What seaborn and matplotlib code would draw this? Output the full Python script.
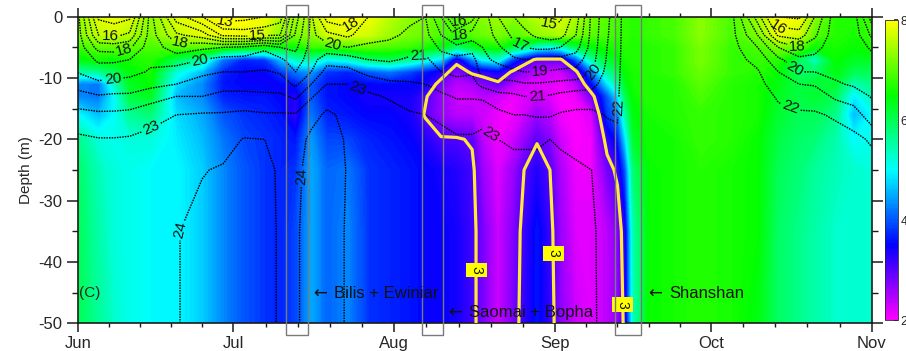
import numpy as np
import matplotlib
matplotlib.use("Agg")
import matplotlib.pyplot as plt
from matplotlib.patches import Rectangle
import seaborn as sns

# Sampling times (days after 1 June 2006) and depths (m) of the section
days = [0, 4, 7, 10, 14, 19, 24, 28, 32, 36, 39, 42, 45, 48, 52, 56, 60, 64, 67, 70,
        73, 76, 78, 81, 84, 86, 88.5, 91, 93, 96, 99, 102, 104, 105.5, 107, 110, 115,
        120, 126, 131, 135, 139, 142, 146, 149.5, 153]
depths = [0, -3, -5, -7, -9, -11, -13, -16, -20, -25, -35, -50]

# Dissolved oxygen profile (mg/L) for each sampling time, top to bottom
oxygen_profiles = [
    [7.3, 7.2, 6.8, 6.4, 5.5, 4.3, 4.3, 5.0, 5.7, 5.9, 6.0, 6.0],
    [7.8, 7.6, 7.0, 6.6, 5.6, 4.2, 4.2, 4.6, 5.2, 5.4, 5.5, 5.6],
    [7.9, 7.7, 7.0, 6.5, 6.0, 5.3, 5.0, 5.0, 5.1, 5.2, 5.2, 5.3],
    [7.8, 7.5, 7.0, 6.6, 6.4, 6.3, 6.1, 5.6, 5.2, 5.1, 5.1, 5.1],
    [7.3, 7.2, 6.9, 6.7, 6.6, 6.5, 6.3, 5.8, 5.2, 5.0, 5.0, 5.0],
    [7.8, 7.6, 7.0, 6.0, 5.2, 4.8, 4.6, 4.8, 4.9, 5.0, 5.0, 5.0],
    [7.9, 7.8, 7.0, 5.5, 4.6, 4.3, 4.3, 4.5, 4.6, 4.7, 4.7, 4.7],
    [8.0, 7.9, 6.8, 4.2, 3.7, 3.6, 3.7, 4.0, 4.2, 4.3, 4.3, 4.3],
    [8.0, 7.9, 6.6, 3.7, 3.5, 3.5, 3.6, 3.8, 3.9, 4.0, 4.0, 4.0],
    [7.9, 7.7, 6.5, 3.8, 3.5, 3.5, 3.6, 3.7, 3.8, 3.8, 3.8, 3.8],
    [7.5, 7.3, 6.4, 4.6, 3.8, 3.5, 3.5, 3.6, 3.7, 3.7, 3.7, 3.7],
    [7.4, 7.2, 6.5, 5.4, 4.2, 3.6, 3.3, 3.2, 3.6, 3.8, 3.9, 3.9],
    [7.6, 7.3, 6.8, 5.5, 4.4, 4.0, 4.0, 4.2, 4.4, 4.5, 4.5, 4.5],
    [7.9, 7.7, 6.8, 5.0, 3.8, 3.6, 3.6, 3.7, 3.9, 4.1, 4.1, 4.1],
    [8.0, 7.8, 6.9, 5.2, 3.7, 3.5, 3.5, 3.6, 3.9, 4.2, 4.3, 4.3],
    [7.9, 7.7, 7.0, 5.8, 4.0, 3.5, 3.4, 3.5, 3.7, 3.8, 3.8, 3.8],
    [7.6, 7.4, 6.9, 6.0, 4.2, 3.5, 3.4, 3.5, 3.6, 3.7, 3.7, 3.7],
    [7.3, 7.2, 6.8, 5.6, 3.9, 3.5, 3.4, 3.4, 3.5, 3.6, 3.6, 3.6],
    [7.2, 7.1, 6.6, 5.2, 3.6, 3.4, 3.05, 2.95, 3.3, 3.5, 3.5, 3.5],
    [7.0, 6.9, 6.4, 4.8, 3.3, 2.8, 2.6, 2.6, 3.05, 3.4, 3.5, 3.5],
    [7.0, 6.8, 5.8, 3.2, 2.7, 2.4, 2.3, 2.4, 3.05, 3.3, 3.4, 3.4],
    [7.2, 7.0, 6.2, 4.3, 3.1, 2.5, 2.3, 2.4, 2.95, 3.1, 3.12, 3.12],
    [7.3, 7.1, 6.5, 5.0, 3.2, 2.7, 2.4, 2.3, 2.4, 2.6, 2.8, 2.8],
    [7.4, 7.2, 6.6, 5.2, 3.4, 2.9, 2.3, 2.1, 2.1, 2.2, 2.3, 2.3],
    [7.3, 7.0, 6.0, 3.8, 2.9, 2.4, 2.1, 2.1, 2.3, 2.6, 2.75, 2.8],
    [7.4, 7.1, 5.8, 3.3, 2.6, 2.3, 2.2, 2.3, 2.6, 3.0, 3.15, 3.2],
    [7.6, 7.3, 5.2, 2.9, 2.4, 2.2, 2.3, 2.6, 2.95, 3.3, 3.6, 3.6],
    [7.7, 7.4, 5.0, 2.9, 2.3, 2.2, 2.2, 2.4, 2.7, 3.0, 3.15, 3.2],
    [7.8, 7.5, 5.2, 2.9, 2.3, 2.1, 2.0, 2.1, 2.3, 2.5, 2.6, 2.7],
    [7.5, 7.2, 6.0, 4.0, 2.9, 2.4, 2.1, 2.0, 2.0, 2.1, 2.2, 2.3],
    [7.2, 7.0, 6.4, 5.5, 4.2, 3.5, 2.8, 2.2, 2.1, 2.1, 2.2, 2.2],
    [7.0, 6.9, 6.6, 6.2, 5.6, 4.8, 4.0, 3.8, 3.2, 2.8, 2.4, 2.4],
    [6.9, 6.8, 6.6, 6.4, 6.0, 5.5, 4.8, 4.2, 3.6, 3.1, 2.7, 2.6],
    [6.8, 6.8, 6.7, 6.6, 6.5, 6.3, 6.0, 5.5, 4.8, 4.0, 3.3, 3.15],
    [6.7, 6.7, 6.7, 6.7, 6.6, 6.6, 6.5, 6.4, 6.2, 5.8, 5.4, 5.3],
    [6.8, 6.8, 6.7, 6.7, 6.7, 6.7, 6.7, 6.6, 6.6, 6.5, 6.5, 6.5],
    [6.9, 6.9, 6.8, 6.8, 6.8, 6.7, 6.7, 6.7, 6.6, 6.6, 6.6, 6.6],
    [7.3, 7.3, 7.2, 7.2, 7.1, 7.0, 6.9, 6.8, 6.8, 6.7, 6.7, 6.7],
    [6.9, 6.9, 6.8, 6.8, 6.8, 6.7, 6.7, 6.7, 6.7, 6.6, 6.6, 6.6],
    [7.4, 7.2, 6.9, 6.8, 6.7, 6.6, 6.6, 6.6, 6.5, 6.5, 6.5, 6.4],
    [8.0, 7.9, 7.2, 6.7, 6.5, 6.4, 6.3, 6.2, 6.1, 6.0, 5.9, 5.9],
    [7.9, 7.7, 7.0, 6.0, 5.9, 6.1, 6.1, 6.0, 5.9, 5.8, 5.7, 5.7],
    [7.3, 7.0, 6.5, 5.3, 5.9, 6.2, 6.2, 6.0, 5.8, 5.6, 5.5, 5.5],
    [6.7, 6.7, 6.6, 6.5, 6.4, 6.2, 6.0, 5.7, 5.5, 5.4, 5.3, 5.3],
    [6.7, 6.6, 6.5, 6.3, 6.0, 5.4, 4.9, 4.6, 5.0, 5.3, 5.3, 5.3],
    [6.9, 6.8, 6.6, 6.3, 6.0, 5.7, 5.4, 5.0, 5.1, 5.2, 5.3, 5.3],
]

# Water temperature profile (degC) for each sampling time, top to bottom
temperature_profiles = [
    [19.3, 19.5, 19.6, 19.8, 19.95, 20.6, 21.4, 22.3, 23.2, 23.5, 23.6, 23.7],
    [14.8, 16.0, 17.6, 18.8, 19.5, 20.2, 21.1, 22.2, 23.05, 23.4, 23.6, 23.7],
    [14.5, 15.8, 17.5, 18.8, 19.6, 20.3, 21.2, 22.2, 23.05, 23.4, 23.6, 23.7],
    [14.8, 16.2, 17.8, 19.0, 19.7, 20.4, 21.2, 22.3, 23.1, 23.4, 23.6, 23.7],
    [19.4, 19.5, 19.6, 19.8, 20.1, 20.7, 21.6, 22.6, 23.3, 23.6, 23.7, 23.75],
    [15.5, 17.2, 18.4, 19.6, 20.4, 21.0, 22.0, 23.0, 23.5, 23.85, 23.95, 23.95],
    [14.0, 16.5, 18.8, 20.0, 20.8, 21.4, 22.0, 23.1, 23.5, 23.95, 24.3, 24.3],
    [12.4, 14.8, 19.0, 20.3, 21.0, 21.6, 22.3, 23.1, 23.6, 24.1, 24.3, 24.3],
    [12.6, 14.6, 19.2, 20.3, 21.0, 21.6, 22.3, 23.2, 24.05, 24.3, 24.4, 24.4],
    [13.0, 14.8, 19.8, 20.5, 21.1, 21.6, 22.2, 23.1, 24.0, 24.2, 24.3, 24.3],
    [13.5, 15.0, 19.0, 20.2, 20.9, 21.5, 22.2, 23.1, 23.8, 23.9, 23.9, 23.9],
    [17.5, 18.2, 18.8, 19.4, 20.0, 20.8, 21.8, 23.1, 23.6, 23.8, 23.9, 23.9],
    [20.2, 20.3, 20.4, 20.6, 21.0, 22.0, 22.9, 23.7, 24.2, 24.3, 24.3, 24.3],
    [17.5, 19.3, 20.4, 21.6, 22.4, 23.0, 23.6, 24.15, 24.4, 24.5, 24.5, 24.5],
    [17.0, 18.8, 20.0, 21.5, 22.3, 23.0, 23.5, 23.8, 23.9, 23.95, 23.9, 23.9],
    [19.0, 19.6, 20.2, 21.0, 21.7, 22.6, 23.2, 23.5, 23.7, 23.8, 23.8, 23.8],
    [19.5, 19.8, 20.3, 20.9, 21.5, 22.2, 22.9, 23.4, 23.7, 23.8, 23.8, 23.8],
    [19.8, 20.2, 20.7, 21.1, 21.6, 22.1, 22.6, 23.1, 23.5, 23.7, 23.8, 23.8],
    [20.0, 20.3, 20.7, 21.2, 21.6, 22.0, 22.5, 23.0, 23.4, 23.6, 23.7, 23.8],
    [18.0, 19.0, 19.8, 20.4, 21.0, 21.6, 22.2, 22.8, 23.3, 23.5, 23.6, 23.7],
    [15.2, 17.8, 19.3, 20.3, 20.8, 21.3, 21.9, 22.6, 23.1, 23.4, 23.5, 23.6],
    [16.5, 18.5, 19.6, 20.4, 20.9, 21.3, 21.9, 22.6, 23.1, 23.4, 23.5, 23.6],
    [18.6, 18.8, 19.0, 19.2, 19.5, 20.7, 21.8, 22.8, 23.15, 23.3, 23.5, 23.6],
    [17.0, 17.6, 18.2, 18.8, 19.4, 20.4, 21.3, 22.3, 23.0, 23.3, 23.5, 23.6],
    [16.0, 16.8, 17.2, 18.2, 19.2, 20.3, 21.2, 22.0, 22.9, 23.2, 23.3, 23.5],
    [15.5, 16.3, 17.0, 18.0, 19.0, 20.1, 21.0, 22.0, 22.9, 23.2, 23.4, 23.5],
    [15.0, 15.8, 16.8, 18.0, 19.0, 20.1, 21.0, 21.9, 22.9, 23.2, 23.4, 23.5],
    [14.6, 15.5, 16.8, 18.2, 19.1, 20.2, 21.1, 21.9, 23.0, 23.3, 23.4, 23.5],
    [14.8, 15.6, 17.0, 18.3, 19.2, 20.3, 21.3, 22.1, 22.9, 23.2, 23.4, 23.5],
    [16.5, 17.0, 17.6, 18.5, 19.3, 20.4, 21.5, 22.2, 22.8, 23.1, 23.3, 23.4],
    [19.2, 19.3, 19.4, 19.6, 19.9, 20.6, 21.5, 22.2, 22.7, 23.0, 23.1, 23.1],
    [20.8, 20.9, 21.0, 21.1, 21.3, 21.6, 21.8, 21.95, 22.3, 22.6, 22.75, 22.8],
    [21.6, 21.65, 21.7, 21.75, 21.8, 21.85, 21.9, 21.95, 22.1, 22.3, 22.5, 22.6],
    [22.4, 22.4, 22.4, 22.4, 22.4, 22.4, 22.45, 22.5, 22.5, 22.55, 22.6, 22.6],
    [22.4, 22.4, 22.4, 22.45, 22.45, 22.5, 22.5, 22.5, 22.55, 22.6, 22.6, 22.6],
    [22.4, 22.4, 22.45, 22.45, 22.5, 22.5, 22.5, 22.55, 22.55, 22.6, 22.6, 22.6],
    [22.4, 22.4, 22.45, 22.45, 22.5, 22.5, 22.5, 22.55, 22.55, 22.6, 22.6, 22.6],
    [22.4, 22.4, 22.45, 22.45, 22.5, 22.5, 22.5, 22.55, 22.55, 22.6, 22.6, 22.6],
    [22.3, 22.35, 22.4, 22.4, 22.45, 22.5, 22.5, 22.55, 22.6, 22.6, 22.6, 22.6],
    [18.5, 20.0, 21.0, 21.7, 22.1, 22.3, 22.4, 22.5, 22.6, 22.6, 22.6, 22.6],
    [15.0, 16.8, 19.0, 20.2, 21.0, 21.5, 21.9, 22.2, 22.4, 22.5, 22.5, 22.5],
    [14.8, 16.5, 18.0, 19.3, 20.0, 21.0, 21.7, 22.1, 22.3, 22.4, 22.5, 22.5],
    [17.0, 17.8, 18.6, 19.3, 20.0, 20.9, 21.6, 22.1, 22.3, 22.4, 22.5, 22.5],
    [19.6, 19.65, 19.7, 19.75, 19.8, 20.1, 20.8, 21.9, 22.3, 22.4, 22.5, 22.5],
    [19.5, 19.6, 19.7, 19.75, 19.8, 19.9, 20.4, 21.6, 22.2, 22.4, 22.5, 22.5],
    [16.5, 17.8, 18.8, 19.4, 19.7, 19.9, 19.95, 20.3, 21.9, 22.3, 22.4, 22.5],
]

month_starts = [0, 30, 61, 92, 122, 153]
month_names = ["Jun", "Jul", "Aug", "Sep", "Oct", "Nov"]
depth_ticks = [0, -10, -20, -30, -40, -50]
temperature_levels = list(range(12, 25))
hypoxia_level = 3
colorbar_ticks = [2, 4, 6, 8]

# Typhoon passages (start, end day) and their names
typhoon_windows = [(40.2, 44.3), (66.3, 70.4), (103.6, 108.6)]
typhoon_names = ["Bilis + Ewiniar", "Saomai + Bopha", "Shanshan"]

# Isotherm labels: (level, day, depth)
temperature_labels = [
    (16, 6.2, -3.5), (18, 9.1, -6.2), (20, 6.8, -10.0), (23, 13.9, -17.7),
    (13, 28.4, -1.4), (15, 34.7, -3.6), (18, 19.7, -4.1), (20, 23.6, -7.1),
    (24, 20.3, -35.0), (24, 43.0, -26.0), (20, 49.2, -4.3), (18, 52.9, -1.4),
    (23, 54.4, -10.8), (21, 65.6, -5.9), (16, 73.6, -0.9), (18, 74.0, -3.8),
    (15, 90.0, -2.2), (17, 85.0, -5.0), (19, 89.0, -8.4), (21, 88.5, -12.3),
    (23, 80.4, -18.2), (20, 100.2, -9.2), (22, 102.9, -14.7),
    (16, 134.4, -2.5), (18, 138.6, -5.1), (20, 139.2, -7.4), (22, 137.3, -14.9),
]
hypoxia_labels = [(77.1, -41.3), (90.0, -38.6), (104.8, -47.0)]

sns.set_theme(style="ticks")
plt.rcParams["font.family"] = ["Liberation Sans", "DejaVu Sans"]
plt.rcParams["axes.unicode_minus"] = False

oxygen_cmap = sns.blend_palette(
    ["#ff00ff", "#0000ff", "#00ffff", "#00ff00", "#ffff00"], as_cmap=True)

oxygen = np.array(oxygen_profiles).T
temperature = np.array(temperature_profiles).T

fig = plt.figure(figsize=(9.06, 3.51), dpi=100)
ax = fig.add_axes([0.0858, 0.0792, 0.8764, 0.8732])

cf = ax.contourf(days, depths, oxygen, levels=np.linspace(2, 8, 121),
                 cmap=oxygen_cmap, antialiased=False, zorder=1)

# one contour set per isotherm so each can carry its own labels
for level in temperature_levels:
    cs = ax.contour(days, depths, temperature, levels=[level],
                    colors="#000000", linewidths=1.0,
                    linestyles=[(0, (1.1, 0.8))], zorder=2)
    spots = [(d, z) for lev, d, z in temperature_labels if lev == level]
    if spots and len(cs.allsegs[0]) > 0:
        cs.clabel(manual=spots, inline=True, inline_spacing=2,
                  fontsize=11, fmt="%d", colors="#111111")

c3 = ax.contour(days, depths, oxygen, levels=[hypoxia_level],
                colors="#ffe838", linewidths=2.3, zorder=3)
hyp_texts = c3.clabel(manual=hypoxia_labels, inline=True, inline_spacing=1,
                      fontsize=10, fmt="%d", colors="#111111")
for t in hyp_texts:
    t.set_rotation(-90)
    t.set_bbox(dict(boxstyle="square,pad=0.25", facecolor="#ffff00",
                    edgecolor="none"))

for start, end in typhoon_windows:
    ax.add_patch(Rectangle((start, -52.0), end - start, 53.9, fill=False,
                           edgecolor="#7a7a7a", linewidth=1.0, clip_on=False,
                           zorder=5))

ax.text(0.3, -45.0, "(C)", fontsize=11, ha="left", va="center", zorder=6)
annotation_spots = [(45.3, -45.2), (71.3, -48.3), (109.9, -45.2)]
for name, (d, z) in zip(typhoon_names, annotation_spots):
    ax.text(d, z, "\u2190", fontsize=12, ha="left", va="center",
            family=["DejaVu Sans"], color="#111111", zorder=6)
    ax.annotate(name, xy=(d, z), xytext=(15.5, 0), textcoords="offset points",
                fontsize=12, ha="left", va="center", color="#111111", zorder=6)

ax.set_xlim(0, 153)
ax.set_ylim(-50, 0)
ax.set_xticks(month_starts)
ax.set_xticklabels(month_names)
minor_x = []
for a, b in zip(month_starts[:-1], month_starts[1:]):
    minor_x.extend(np.linspace(a, b, 6)[1:-1])
ax.set_xticks(minor_x, minor=True)
ax.set_yticks(depth_ticks)
ax.set_yticklabels([str(v) for v in depth_ticks])
ax.set_yticks([-5, -15, -25, -35, -45], minor=True)
ax.set_ylabel("Depth (m)", fontsize=11, labelpad=4)

ax.tick_params(axis="x", which="both", top=True, bottom=True,
               direction="out", color="k")
ax.tick_params(axis="x", which="major", length=6.5, width=1.1, labelsize=12, pad=3)
ax.tick_params(axis="x", which="minor", length=3, width=1.0)
ax.tick_params(axis="y", which="both", left=True, right=True,
               direction="out", color="k")
ax.tick_params(axis="y", which="major", length=8, width=1.1, labelsize=12, pad=3)
ax.tick_params(axis="y", which="minor", length=4.5, width=1.0)
for s in ax.spines.values():
    s.set_linewidth(1.2)
    s.set_color("k")

cax = fig.add_axes([0.9768, 0.0883, 0.01435, 0.8547])
cb = fig.colorbar(cf, cax=cax, ticks=colorbar_ticks)
cb.ax.tick_params(labelsize=9, length=3, direction="in", pad=2)
cb.outline.set_linewidth(0.6)

fig.savefig("out.png", dpi=100)
